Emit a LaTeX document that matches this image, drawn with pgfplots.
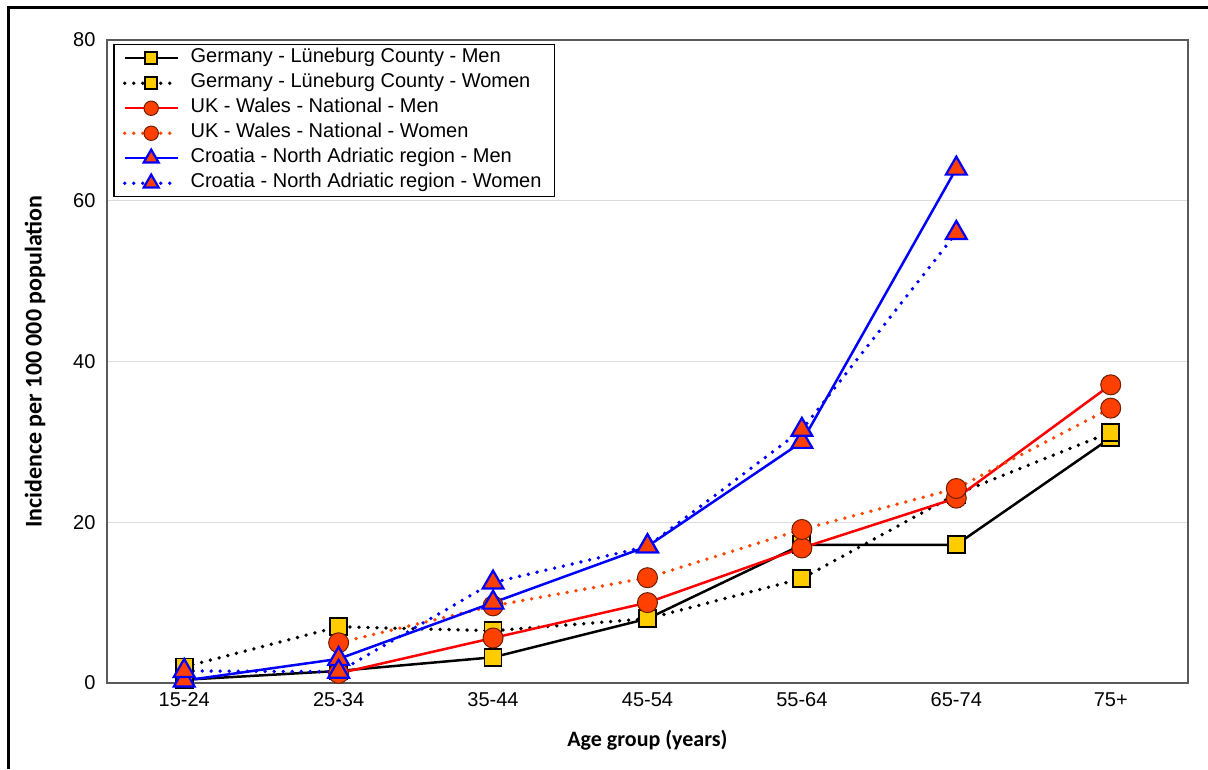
\documentclass[border=0pt]{standalone}
\usepackage{pgfplots}
\pgfplotsset{compat=1.18}
\usepackage{fontspec}
\setmainfont{Liberation Sans}
\newfontfamily\carl{Carlito}

\definecolor{gold}{RGB}{255,204,0}
\definecolor{orred}{RGB}{255,64,0}
\definecolor{circedge}{RGB}{110,30,0}
\definecolor{myblue}{RGB}{0,0,255}
\definecolor{myred}{RGB}{255,0,0}
\definecolor{dotred}{RGB}{255,69,0}
\definecolor{frameg}{RGB}{90,90,90}
\definecolor{gridg}{RGB}{220,220,220}

\pgfplotstableread{
x gm gw um uw cm cw
0 0.4 2.0 nan nan 0.3 1.5
1 1.5 7.0 1.2 5.0 3.0 1.4
2 3.2 6.5 5.6 9.6 10.0 12.5
3 8.0 8.0 10.0 13.1 17.0 17.0
4 17.2 13.0 16.8 19.1 30.0 31.5
5 17.2 23.5 23.0 24.2 64.0 56.0
6 30.5 31.2 37.1 34.2 nan nan
}\datatable

\begin{document}
\begin{tikzpicture}[x=1pt,y=1pt]
\useasboundingbox (0,0) rectangle (1208,769);
\fill[white] (0,0) rectangle (1208,769);
\draw[line width=3pt] (8.5,0) -- (8.5,761.5) -- (1208,761.5);
\begin{axis}[
  at={(107pt,86pt)}, anchor=south west,
  scale only axis, width=1081pt, height=643pt,
  xmin=-0.5, xmax=6.5, ymin=0, ymax=80,
  ytick={0,20,40,60,80},
  xtick={0,...,6},
  xticklabels={15-24,25-34,35-44,45-54,55-64,65-74,75+},
  ymajorgrids,
  grid style={draw=gridg, line width=1.2pt},
  axis line style={draw=frameg, line width=1.8pt},
  tick style={draw=none},
  /pgf/number format/assume math mode=true,
  tick label style={font=\fontsize{20}{24}\selectfont},
  yticklabel style={xshift=-8pt},
  xticklabel style={yshift=-6pt},
  xlabel={Age group (years)},
  ylabel={Incidence per 100 000 population},
  xlabel style={font=\fontsize{22}{26}\selectfont\carl\bfseries, at={(axis description cs:0.5,0)}, anchor=center, yshift=-57pt},
  ylabel style={font=\fontsize{24}{28}\selectfont\carl\bfseries, at={(axis description cs:0,0.5)}, anchor=center, yshift=72pt},
  clip=false,
  unbounded coords=jump,
  legend cell align=left,
  legend style={at={(rel axis cs:0.0056,0.9938)}, anchor=north west,
    draw=black, line width=1.5pt, fill=white,
    font=\fontsize{20}{24}\selectfont,
    nodes={inner ysep=4pt, inner xsep=4pt, text height=13pt, text depth=4pt},
    inner xsep=9pt, inner ysep=1pt, row sep=0pt, column sep=7pt},
  legend image code/.code={\draw[mark repeat=2,mark phase=2] plot coordinates {(0pt,0pt) (26.5pt,0pt) (53pt,0pt)};},
  legend image post style={/tikz/every mark/.append style={scale=0.72}},
]
\addplot[black, line width=2.5pt, mark=square*, mark size=8.5pt,
  mark options={fill=gold, draw=black, line width=1.8pt, solid}]
  table[x=x,y=gm]{\datatable};
\addlegendentry{Germany - Lüneburg County - Men}
\addplot[black, line width=3.8pt, line cap=round, dash pattern=on 0pt off 9pt, mark=square*, mark size=8.5pt,
  mark options={fill=gold, draw=black, line width=1.8pt, solid, line cap=butt}]
  table[x=x,y=gw]{\datatable};
\addlegendentry{Germany - Lüneburg County - Women}
\addplot[myred, line width=2.5pt, mark=*, mark size=10pt,
  mark options={fill=orred, draw=circedge, line width=1pt, solid}]
  table[x=x,y=um]{\datatable};
\addlegendentry{UK - Wales - National - Men}
\addplot[dotred, line width=3.8pt, line cap=round, dash pattern=on 0pt off 9pt, mark=*, mark size=10pt,
  mark options={fill=orred, draw=circedge, line width=1pt, solid, line cap=butt}]
  table[x=x,y=uw]{\datatable};
\addlegendentry{UK - Wales - National - Women}
\addplot[myblue, line width=2.5pt, mark=triangle*, mark size=12pt,
  mark options={fill=orred, draw=myblue, line width=2.2pt, solid}]
  table[x=x,y=cm]{\datatable};
\addlegendentry{Croatia - North Adriatic region - Men}
\addplot[myblue, line width=3.8pt, line cap=round, dash pattern=on 0pt off 9pt, mark=triangle*, mark size=12pt,
  mark options={fill=orred, draw=myblue, line width=2.2pt, solid, line cap=butt}]
  table[x=x,y=cw]{\datatable};
\addlegendentry{Croatia - North Adriatic region - Women}
\end{axis}
\end{tikzpicture}
\end{document}
